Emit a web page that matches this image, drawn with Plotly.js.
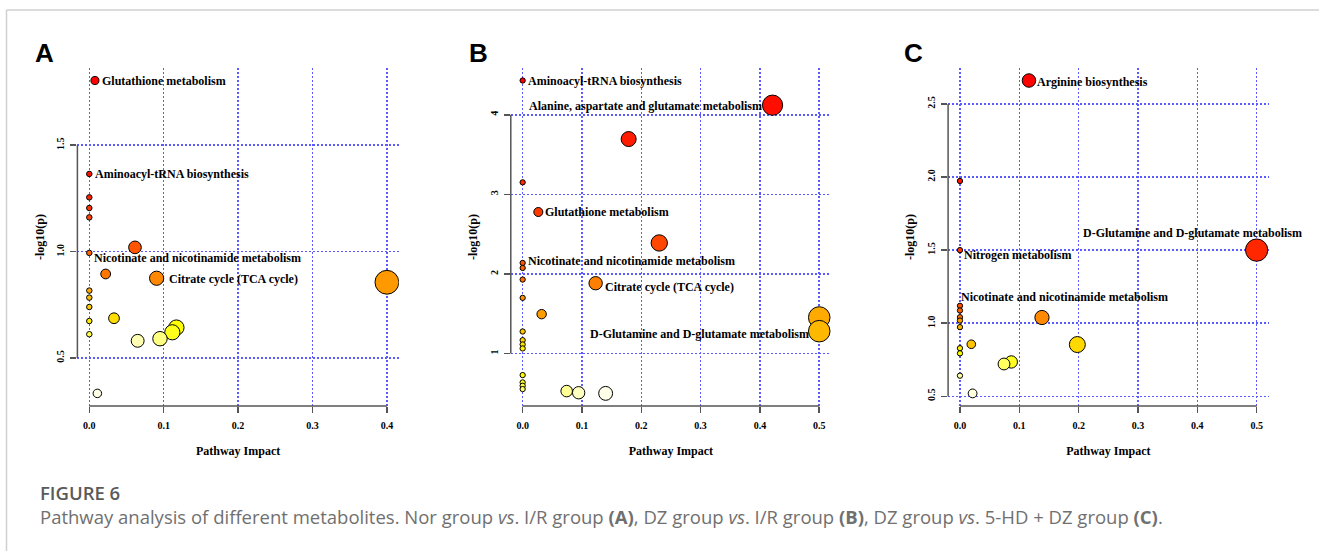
<!DOCTYPE html>
<html><head><meta charset="utf-8">
<script src="https://cdn.plot.ly/plotly-3.0.1.min.js"></script>
<style>html,body{margin:0;padding:0;background:#fff}#chart{width:1319px;height:551px}</style>
</head><body><div id="chart"></div>
<script>
// ---------- DATA ----------
// Panel A: Nor group vs. I/R group
const impactA = [0.0076,0,0,0,0,0.0614,0,0.022,0.0905,0.4,0,0,0,0.0332,0,0.117,0.1116,0,0.095,0.065,0.0108];
const logpA   = [1.804,1.365,1.255,1.205,1.161,1.020,0.994,0.895,0.875,0.856,0.817,0.784,0.740,0.687,0.674,0.643,0.621,0.612,0.591,0.581,0.334];
const labelsA = ["Glutathione metabolism","Aminoacyl-tRNA biosynthesis","","","","","Nicotinate and nicotinamide metabolism","","Citrate cycle (TCA cycle)","","","","","","","","","","","",""];

// Panel B: DZ group vs. I/R group
const impactB = [0,0.4213,0.1787,0,0.0264,0.2303,0,0,0,0.123,0,0.032,0.5,0.5,0,0,0,0,0,0,0,0,0.0742,0.0944,0.1399];
const logpB   = [4.431,4.121,3.695,3.151,2.778,2.389,2.138,2.075,1.929,1.883,1.699,1.494,1.452,1.280,1.276,1.167,1.113,1.063,0.728,0.636,0.594,0.552,0.527,0.506,0.498];
const labelsB = ["Aminoacyl-tRNA biosynthesis","Alanine, aspartate and glutamate metabolism","","","Glutathione metabolism","","Nicotinate and nicotinamide metabolism","","","Citrate cycle (TCA cycle)","","","","D-Glutamine and D-glutamate metabolism","","","","","","","","","","",""];

// Panel C: DZ group vs. 5-HD + DZ group
const impactC = [0.1163,0,0.5,0,0,0,0,0.1382,0,0,0.0191,0.1978,0,0,0.0865,0.0742,0,0.0213];
const logpC   = [2.660,1.973,1.500,1.500,1.119,1.087,1.041,1.039,1.018,0.973,0.856,0.854,0.829,0.794,0.735,0.721,0.641,0.520];
const labelsC = ["Arginine biosynthesis","","D-Glutamine and D-glutamate metabolism","Nitrogen metabolism","Nicotinate and nicotinamide metabolism","","","","","","","","","","","","",""];

const panelLetters = ["A","B","C"];
const xTitle = "Pathway Impact";
const yTitle = "-log10(p)";
const captionHead = "FIGURE 6";
const captionText = "Pathway analysis of different metabolites. Nor group <i>vs</i>. I/R group <b>(A)</b>, DZ group <i>vs</i>. I/R group <b>(B)</b>, DZ group <i>vs</i>. 5-HD + DZ group <b>(C)</b>.";

// ---------- STYLE ----------
const W = 1319, H = 551;
const yDom = [1 - 405.9/H, 1 - 68/H];
const panels = [
  {x: impactA, y: logpA, lab: labelsA, dom: [77.4/W, 398.8/W], ydt: 0.5, yfmt: '.1f', d0: 5.5, k: 29,
   lstyle: {0:['left',5,0],1:['left',4,0],6:['left',3,-5],8:['left',10,-0.5]}, letterX: 33},
  {x: impactB, y: logpB, lab: labelsB, dom: [510.8/W, 831.1/W], ydt: 1, yfmt: 'd', d0: 5.3, k: 23,
   lstyle: {0:['left',3,0],1:['right',-8.5,-0.5],4:['left',5,0],6:['left',3,2],9:['left',7.5,-3.5],13:['right',-8.5,-3]}, letterX: 467},
  {x: impactC, y: logpC, lab: labelsC, dom: [948.1/W, 1268.5/W], ydt: 0.5, yfmt: '.1f', d0: 5.3, k: 24,
   lstyle: {0:['left',6,-1],2:['right',47,17],3:['left',2.5,-5],4:['left',-1,9]}, letterX: 902}
];

function hsv2hex(h, s, v) {
  const i = Math.floor(h*6), f = h*6 - i;
  const p = v*(1-s), q = v*(1-f*s), t = v*(1-(1-f)*s);
  let r, g, b;
  switch (((i % 6) + 6) % 6) {
    case 0: r=v; g=t; b=p; break; case 1: r=q; g=v; b=p; break;
    case 2: r=p; g=v; b=t; break; case 3: r=p; g=q; b=v; break;
    case 4: r=t; g=p; b=v; break; default: r=v; g=p; b=q;
  }
  const hx = c => Math.round(c*255).toString(16).padStart(2,'0');
  return '#' + hx(r) + hx(g) + hx(b);
}
// R heat.colors(n)
function heatColors(n) {
  const j = Math.floor(n/4), i = n - j, out = [];
  for (let k = 0; k < i; k++) out.push(hsv2hex(i > 1 ? (k/(i-1))/6 : 0, 1, 1));
  for (let k = 0; k < j; k++) {
    const s = j > 1 ? (1 - 1/(2*j)) + k*((1/(2*j)) - (1 - 1/(2*j)))/(j-1) : 0.5;
    out.push(hsv2hex(1/6, s, 1));
  }
  return out;
}
function padRange(v) {
  const mn = Math.min(...v), mx = Math.max(...v), e = (mx - mn)*0.04;
  return [mn - e, mx + e];
}

const serif = "Liberation Serif, Times New Roman, serif";
const traces = [], annotations = [], shapes = [];
const layout = {
  width: W, height: H, margin: {l:0, r:0, t:0, b:0},
  paper_bgcolor: '#fff', plot_bgcolor: '#fff', showlegend: false,
  font: {family: serif, color: '#000'}
};

panels.forEach((p, n) => {
  const xa = n === 0 ? 'x' : 'x' + (n+1), ya = n === 0 ? 'y' : 'y' + (n+1);
  const xk = n === 0 ? 'xaxis' : 'xaxis' + (n+1), yk = n === 0 ? 'yaxis' : 'yaxis' + (n+1);
  // colour by rank of -log10(p), as MetaboAnalyst does
  const order = p.y.map((v, i) => i).sort((a, b) => p.y[b] - p.y[a]);
  const pal = heatColors(p.y.length), col = new Array(p.y.length);
  order.forEach((idx, r) => col[idx] = pal[r]);
  const xs = order.map(i => p.x[i]), ys = order.map(i => p.y[i]);
  traces.push({
    type: 'scatter', mode: 'markers', xaxis: xa, yaxis: ya,
    x: xs, y: ys, hoverinfo: 'x+y',
    marker: {size: xs.map(v => p.d0 + p.k*Math.sqrt(Math.abs(v))), color: order.map(i => col[i]),
             line: {color: '#000', width: 1}, opacity: 1}
  });
  const xr = padRange(p.x), yr = padRange(p.y);
  const common = {
    showgrid: true, gridcolor: '#5a5aff', griddash: '2px,2px', gridwidth: 1.5,
    zeroline: false, showline: false, ticks: 'outside', ticklen: 6, tickwidth: 1.5, tickcolor: '#555',
    tickfont: {family: serif, size: 10, weight: 'bold', color: '#000'}, fixedrange: true
  };
  layout[xk] = Object.assign({}, common, {
    domain: p.dom, anchor: ya, range: xr, tick0: 0, dtick: 0.1, tickformat: '.1f',
    ticklabelstandoff: 4,
    title: {text: xTitle, font: {family: serif, size: 12, weight: 'bold', color: '#000'}, standoff: 16}
  });
  layout[yk] = Object.assign({}, common, {
    domain: yDom, anchor: xa, range: yr, tick0: 0, dtick: p.ydt, tickformat: p.yfmt, tickangle: -90,
    ticklabelstandoff: 2,
    title: {text: yTitle, font: {family: serif, size: 12, weight: 'bold', color: '#000'}, standoff: 8}
  });
  // R-style axis lines spanning first to last tick
  const xt0 = Math.ceil(xr[0]/0.1 - 1e-9)*0.1, xt1 = Math.floor(xr[1]/0.1 + 1e-9)*0.1;
  const yt0 = Math.ceil(yr[0]/p.ydt - 1e-9)*p.ydt, yt1 = Math.floor(yr[1]/p.ydt + 1e-9)*p.ydt;
  shapes.push({type: 'line', xref: xa, yref: ya + ' domain', x0: xt0, x1: xt1, y0: 0, y1: 0, line: {color: '#555', width: 1.5}});
  shapes.push({type: 'line', xref: xa + ' domain', yref: ya, x0: 0, x1: 0, y0: yt0, y1: yt1, line: {color: '#555', width: 1.5}});
  // pathway labels
  p.lab.forEach((t, i) => {
    if (!t) return;
    const st = p.lstyle[i] || ['left', 4, 0];
    annotations.push({xref: xa, yref: ya, x: p.x[i], y: p.y[i], text: t, showarrow: false,
      xanchor: st[0], yanchor: 'middle', xshift: st[1], yshift: st[2],
      font: {family: serif, size: 12, weight: 'bold', color: '#000'}});
  });
  // panel letter
  annotations.push({xref: 'paper', yref: 'paper', x: p.letterX/W, y: 1 - 53/H, text: panelLetters[n],
    showarrow: false, xanchor: 'left', yanchor: 'middle',
    font: {family: 'Liberation Sans, Arial, sans-serif', size: 26, weight: 'bold', color: '#000'}});
});

// caption
annotations.push({xref: 'paper', yref: 'paper', x: 38/W, y: 1 - 492/H, text: captionHead, showarrow: false,
  xanchor: 'left', yanchor: 'middle', font: {family: 'Open Sans, sans-serif', size: 18.5, weight: 600, color: '#5a5a5a'}});
annotations.push({xref: 'paper', yref: 'paper', x: 38/W, y: 1 - 516/H, text: captionText, showarrow: false,
  xanchor: 'left', yanchor: 'middle', font: {family: 'Open Sans, sans-serif', size: 18.5, color: '#707070'}});

// page frame lines
shapes.push({type: 'line', xref: 'paper', yref: 'paper', x0: 6.5/W, x1: 1, y0: 1 - 10/H, y1: 1 - 10/H, line: {color: '#d0d0d0', width: 1.5}});
shapes.push({type: 'line', xref: 'paper', yref: 'paper', x0: 6.5/W, x1: 6.5/W, y0: 0, y1: 1 - 10/H, line: {color: '#d0d0d0', width: 1.5}});

layout.annotations = annotations;
layout.shapes = shapes;
Plotly.newPlot('chart', traces, layout, {displayModeBar: false, staticPlot: true});
</script></body></html>
